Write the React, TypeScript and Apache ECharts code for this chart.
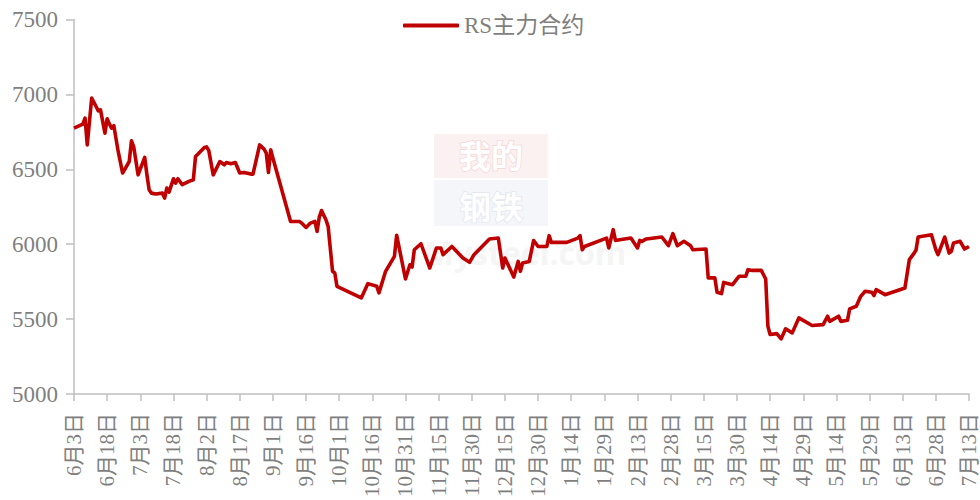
import React, { useEffect, useRef } from "react";
import * as echarts from "echarts";

const seriesName = "RS主力合约";
const startDate = "2022-06-03";
const endDate = "2023-07-13";
const yTicks = { min: 5000, max: 7500, step: 500 };

const priceDates = [
  "2022-06-03","2022-06-07","2022-06-08","2022-06-09","2022-06-11","2022-06-13","2022-06-14","2022-06-15","2022-06-17","2022-06-18",
  "2022-06-19","2022-06-20","2022-06-21","2022-06-23","2022-06-25","2022-06-28","2022-06-29","2022-06-30","2022-07-02","2022-07-05",
  "2022-07-06","2022-07-07","2022-07-08","2022-07-10","2022-07-13","2022-07-14","2022-07-15","2022-07-16","2022-07-18","2022-07-19",
  "2022-07-20","2022-07-22","2022-07-25","2022-07-27","2022-07-28","2022-08-01","2022-08-02","2022-08-03","2022-08-05","2022-08-08",
  "2022-08-10","2022-08-11","2022-08-13","2022-08-15","2022-08-17","2022-08-19","2022-08-22","2022-08-23","2022-08-26","2022-08-28",
  "2022-08-29","2022-08-30","2022-08-31","2022-09-01","2022-09-09","2022-09-13","2022-09-14","2022-09-16","2022-09-18","2022-09-20",
  "2022-09-21","2022-09-22","2022-09-23","2022-09-25","2022-09-26","2022-09-28","2022-09-29","2022-09-30","2022-10-11","2022-10-14",
  "2022-10-18","2022-10-19","2022-10-22","2022-10-26","2022-10-27","2022-10-31","2022-11-02","2022-11-03","2022-11-04","2022-11-07",
  "2022-11-11","2022-11-14","2022-11-16","2022-11-17","2022-11-21","2022-11-26","2022-11-29","2022-12-01","2022-12-08","2022-12-12",
  "2022-12-14","2022-12-15","2022-12-19","2022-12-21","2022-12-22","2022-12-23","2022-12-26","2022-12-28","2022-12-30","2023-01-03",
  "2023-01-04","2023-01-05","2023-01-12","2023-01-17","2023-01-18","2023-01-19","2023-01-20","2023-01-30","2023-01-31","2023-02-02",
  "2023-02-03","2023-02-05","2023-02-10","2023-02-13","2023-02-14","2023-02-15","2023-02-17","2023-02-24","2023-02-27","2023-03-01",
  "2023-03-03","2023-03-06","2023-03-09","2023-03-10","2023-03-16","2023-03-17","2023-03-20","2023-03-21","2023-03-23","2023-03-24",
  "2023-03-28","2023-03-30","2023-03-31","2023-04-03","2023-04-04","2023-04-06","2023-04-10","2023-04-12","2023-04-13","2023-04-14",
  "2023-04-17","2023-04-19","2023-04-21","2023-04-24","2023-04-27","2023-05-03","2023-05-08","2023-05-10","2023-05-11","2023-05-15",
  "2023-05-16","2023-05-19","2023-05-20","2023-05-23","2023-05-25","2023-05-27","2023-05-30","2023-05-31","2023-06-01","2023-06-05",
  "2023-06-14","2023-06-16","2023-06-18","2023-06-19","2023-06-20","2023-06-26","2023-06-28","2023-06-29","2023-07-02","2023-07-04",
  "2023-07-05","2023-07-06","2023-07-09","2023-07-11","2023-07-13",
];

const priceValues = [
  6775,6801,6841,6663,6975,6919,6890,6897,6741,6837,
  6803,6775,6792,6619,6475,6552,6690,6652,6463,6579,
  6463,6363,6341,6335,6341,6308,6375,6348,6437,6408,
  6437,6397,6419,6430,6586,6645,6650,6625,6463,6552,
  6530,6545,6537,6545,6475,6479,6468,6468,6663,6635,
  6608,6479,6630,6575,6152,6152,6141,6112,6141,6152,
  6085,6181,6225,6163,6119,5819,5808,5719,5641,5737,
  5719,5675,5819,5919,6060,5768,5863,5848,5963,6003,
  5841,5975,5975,5930,5985,5908,5879,5930,6035,6041,
  5841,5908,5781,5885,5819,5875,5885,6025,5985,5985,
  6057,6012,6012,6041,6057,5963,5985,6041,5975,6097,
  6025,6030,6041,5975,6025,6019,6035,6048,5990,6070,
  5990,6019,5990,5963,5968,5775,5775,5679,5670,5745,
  5730,5768,5786,5786,5830,5825,5825,5768,5452,5397,
  5403,5368,5435,5408,5508,5457,5463,5519,5485,5519,
  5485,5492,5568,5586,5652,5686,5679,5657,5697,5663,
  5708,5897,5937,5959,6048,6063,5963,5930,6048,5941,
  5952,6008,6019,5968,5985,
];

const watermarkTop = "我的";
const watermarkBottom = "钢铁";
const watermarkSite = "Mysteel.com";

function buildCategories() {
  const keys: string[] = [];
  const labels: string[] = [];
  const s = new Date(startDate + "T00:00:00Z").getTime();
  const e = new Date(endDate + "T00:00:00Z").getTime();
  for (let t = s; t <= e; t += 86400000) {
    const d = new Date(t);
    keys.push(d.toISOString().slice(0, 10));
    labels.push(`${d.getUTCMonth() + 1}月${d.getUTCDate()}日`);
  }
  return { keys, labels };
}

export default function App() {
  const ref = useRef<HTMLDivElement>(null);
  useEffect(() => {
    if (!ref.current) return;
    const chart = echarts.init(ref.current, null, { renderer: "svg" });
    const { keys, labels } = buildCategories();
    const idx: Record<string, number> = {};
    keys.forEach((k, i) => (idx[k] = i));
    const seriesData: (number | null)[] = keys.map(() => null);
    priceDates.forEach((d, i) => {
      if (idx[d] !== undefined) seriesData[idx[d]] = priceValues[i];
    });
    const gray = "#7f7f7f";
    const axisGray = "#bfbfbf";
    const serif = "'Liberation Serif', 'Noto Sans CJK SC', serif";
    chart.setOption({
      animation: false,
      backgroundColor: "#ffffff",
      grid: { left: 74, right: 11, top: 19.5, bottom: 105.5, containLabel: false },
      graphic: [
        {
          type: "group",
          z: 0,
          silent: true,
          children: [
            { type: "rect", shape: { x: 434, y: 134, width: 114, height: 44 }, style: { fill: "#fcf1f1" } },
            { type: "rect", shape: { x: 434, y: 180, width: 114, height: 46 }, style: { fill: "#f4f6fa" } },
            {
              type: "text",
              x: 491,
              y: 154,
              style: {
                text: watermarkTop,
                fill: "#ffffff",
                stroke: "#f4d6d6",
                lineWidth: 1.5,
                font: "bold 32px 'Noto Sans CJK SC'",
                lineHeight: 34,
                textAlign: "center",
                textVerticalAlign: "middle",
              },
            },
            {
              type: "text",
              x: 491,
              y: 205,
              style: {
                text: watermarkBottom,
                fill: "#ffffff",
                stroke: "#e2e6ee",
                lineWidth: 1.5,
                font: "bold 32px 'Noto Sans CJK SC'",
                lineHeight: 34,
                textAlign: "center",
                textVerticalAlign: "middle",
              },
            },
            {
              type: "text",
              x: 525,
              y: 252,
              style: {
                text: watermarkSite,
                fill: "#f5f5f5",
                font: "bold 32px 'Open Sans', sans-serif",
                lineHeight: 34,
                textAlign: "center",
                textVerticalAlign: "middle",
              },
            },
          ],
        },
      ],
      legend: {
        show: true,
        top: 9,
        left: 398,
        itemWidth: 56,
        itemHeight: 4,
        itemGap: 8,
        icon: "roundRect",
        textStyle: { color: gray, fontSize: 23, fontFamily: serif },
        data: [seriesName],
      },
      xAxis: {
        type: "category",
        data: labels,
        boundaryGap: false,
        axisLine: { show: true, lineStyle: { color: axisGray, width: 1.5 } },
        axisTick: { show: true, interval: 14, length: 7, lineStyle: { color: axisGray, width: 1.5 } },
        axisLabel: {
          interval: 14,
          rotate: 90,
          margin: 19,
          color: gray,
          fontSize: 21,
          fontFamily: serif,
        },
        splitLine: { show: false },
      },
      yAxis: {
        type: "value",
        min: yTicks.min,
        max: yTicks.max,
        interval: yTicks.step,
        axisLine: { show: true, lineStyle: { color: axisGray, width: 1.5 } },
        axisTick: { show: true, length: 8, lineStyle: { color: axisGray, width: 1.5 } },
        axisLabel: {
          margin: 16,
          color: gray,
          fontSize: 23,
          fontFamily: "'Liberation Serif', serif",
          formatter: (v: number) => String(v),
        },
        splitLine: { show: false },
      },
      series: [
        {
          name: seriesName,
          type: "line",
          z: 5,
          data: seriesData,
          connectNulls: true,
          showSymbol: false,
          symbol: "none",
          lineStyle: { color: "#c00000", width: 3.6, join: "round" },
          itemStyle: { color: "#c00000" },
        },
      ],
    });
    return () => chart.dispose();
  }, []);
  return (
    <div
      ref={ref}
      style={{ position: "fixed", left: 0, top: 0, width: 980, height: 500, background: "#fff" }}
    />
  );
}
